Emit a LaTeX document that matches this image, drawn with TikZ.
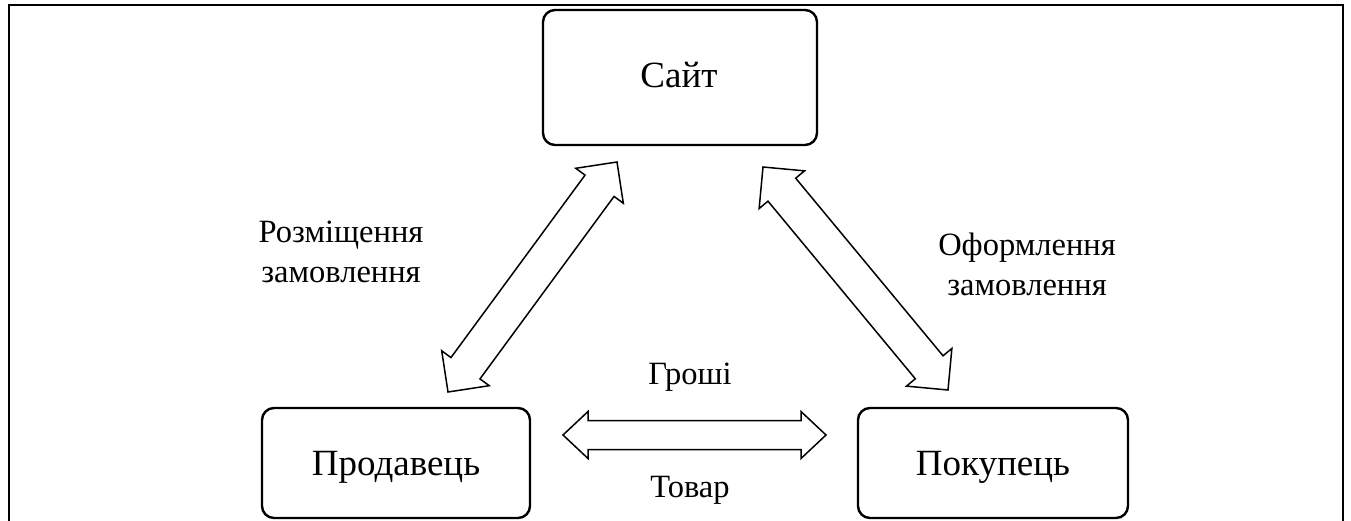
\documentclass[tikz,border=0pt]{standalone}
\usepackage{fontspec}
\setmainfont{Liberation Serif}
\usetikzlibrary{calc}
\newcommand\blockdarrow[5]{%
  \coordinate (#1-h) at ($(#1)!#5!(#2)$);
  \coordinate (#2-h) at ($(#2)!#5!(#1)$);
  \draw[arrowbox] (#1) -- ($(#1-h)!#4!90:(#2)$) -- ($(#1-h)!#3!90:(#2)$)
    -- ($(#2-h)!#3!-90:(#1)$) -- ($(#2-h)!#4!-90:(#1)$) -- (#2)
    -- ($(#2-h)!#4!90:(#1)$) -- ($(#2-h)!#3!90:(#1)$)
    -- ($(#1-h)!#3!-90:(#2)$) -- ($(#1-h)!#4!-90:(#2)$) -- cycle;
}
\tikzset{
  box/.style={draw, line width=2.4pt, rounded corners=12pt, inner sep=0pt},
  boxtext/.style={font=\fontsize{37}{44}\selectfont, anchor=base, inner sep=0pt},
  lbl/.style={font=\fontsize{32.5}{40}\selectfont, anchor=base, inner sep=0pt, align=center},
  arrowbox/.style={draw, fill=white, line width=1.5pt, line join=miter},
  frame/.style={draw, line width=2pt}
}
\begin{document}
\begin{tikzpicture}[x=1pt, y=-1pt]
\useasboundingbox (0,0) rectangle (1351,521);
\draw[frame] (9,521) -- (9,5) -- (1343,5) -- (1343,521);
% boxes
\draw[box] (543,10) rectangle (817,145);
\draw[box] (262,408) rectangle (530,518);
\draw[box] (858,408) rectangle (1128,518);
\node[boxtext] (site) at (679,88) {Сайт};
\node[boxtext] (seller) at (396,475) {Продавець};
\node[boxtext] (buyer) at (993,475) {Покупець};
% arrows
\coordinate (la) at (448,392);
\coordinate (lb) at (617,162);
\coordinate (ra) at (948,390);
\coordinate (rb) at (763,167);
\coordinate (ha) at (563,435);
\coordinate (hb) at (826,435);
\blockdarrow{la}{lb}{18pt}{29.5pt}{29.5pt}
\blockdarrow{ra}{rb}{18pt}{29.5pt}{29.5pt}
\blockdarrow{ha}{hb}{14.5pt}{23.5pt}{25pt}
% labels
\node[lbl] (l1) at (341,283) {Розміщення\\замовлення};
\node[lbl] (l2) at (1027,295) {Оформлення\\замовлення};
\node[lbl] (money) at (690,384) {Гроші};
\node[lbl] (goods) at (690,497) {Товар};
\end{tikzpicture}
\end{document}
